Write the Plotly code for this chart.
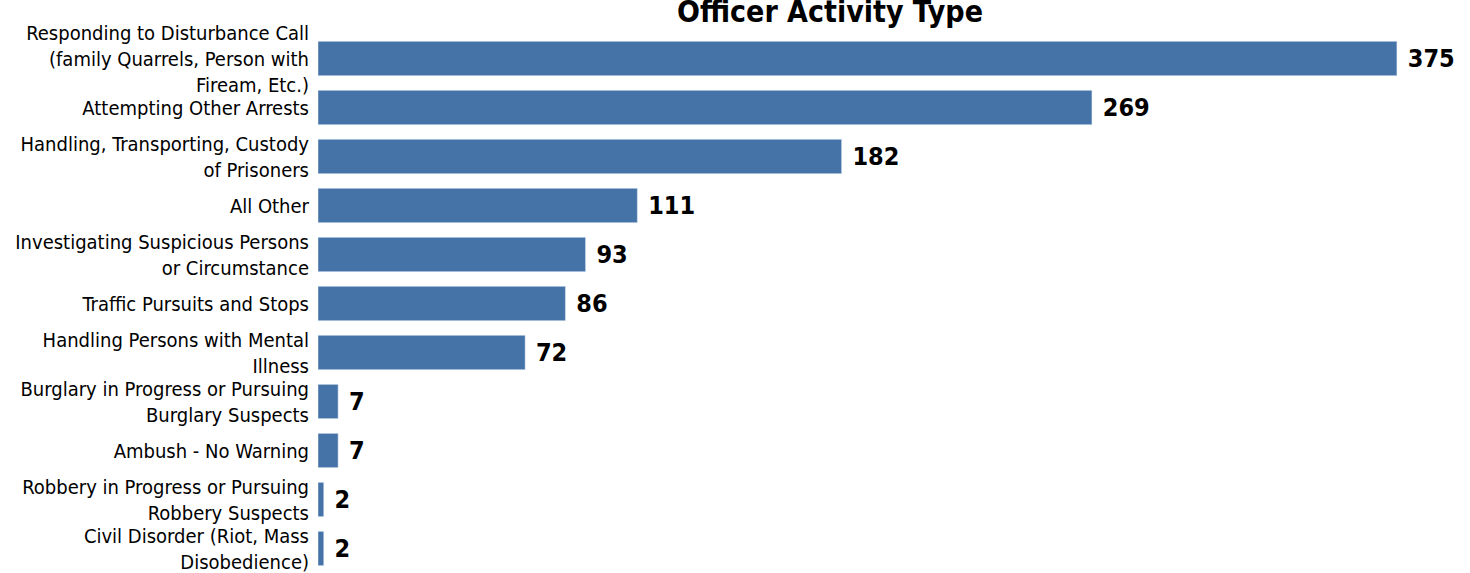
import plotly.graph_objects as go

# officer activity categories, top to bottom
activities = [
    "Responding to Disturbance Call<br>(family Quarrels, Person with<br>Fiream, Etc.)",
    "Attempting Other Arrests",
    "Handling, Transporting, Custody<br>of Prisoners",
    "All Other",
    "Investigating Suspicious Persons<br>or Circumstance",
    "Traffic Pursuits and Stops",
    "Handling Persons with Mental<br>Illness",
    "Burglary in Progress or Pursuing<br>Burglary Suspects",
    "Ambush - No Warning",
    "Robbery in Progress or Pursuing<br>Robbery Suspects",
    "Civil Disorder (Riot, Mass<br>Disobedience)",
]
counts = [375, 269, 182, 111, 93, 86, 72, 7, 7, 2, 2]

font_narrow = "DejaVu Sans Condensed, Roboto, sans-serif"

fig = go.Figure()
fig.add_trace(go.Bar(
    x=counts, y=activities, orientation='h',
    marker=dict(color='#4573a8'),
    text=[' ' + str(c) for c in counts], textposition='outside',
    textfont=dict(family=font_narrow, size=25, color='black', weight='bold'),
    cliponaxis=False,
))

fig.update_layout(
    width=1470, height=573,
    margin=dict(l=318, r=0, t=34, b=0),
    plot_bgcolor='white', paper_bgcolor='white',
    bargap=0.3,
    showlegend=False,
    title=dict(text='<b>Officer Activity Type</b>', x=830/1470, xanchor='center',
               y=0.98, yanchor='middle', yref='container',
               font=dict(family=font_narrow, size=30, color='black')),
    xaxis=dict(range=[0, 400.4], visible=False),
    yaxis=dict(autorange='reversed', showgrid=False, showline=False, ticks='',
               ticklabelstandoff=8,
               tickfont=dict(family=font_narrow, size=20, color='black')),
)

# drop the page's default body margin so the figure sits at the top-left corner
fig.write_html("out.html", config={'displayModeBar': False},
               post_script="document.body.style.margin='0';")
